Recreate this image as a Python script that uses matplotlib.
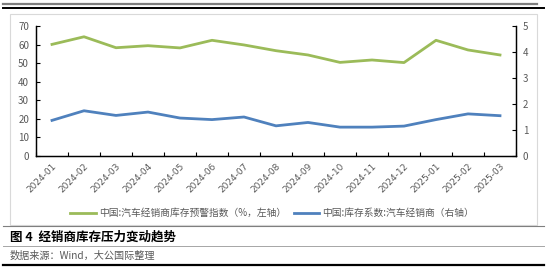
import matplotlib.pyplot as plt
from matplotlib.lines import Line2D
from matplotlib.patches import Rectangle
import numpy as np

plt.rcParams['font.family'] = ['Noto Sans CJK SC', 'DejaVu Sans']

# ---- data ----
months = ['2024-01', '2024-02', '2024-03', '2024-04', '2024-05', '2024-06',
          '2024-07', '2024-08', '2024-09', '2024-10', '2024-11', '2024-12',
          '2025-01', '2025-02', '2025-03']
warning_index = [60.1, 64.2, 58.3, 59.4, 58.2, 62.3, 59.8, 56.7, 54.4,
                 50.4, 51.7, 50.3, 62.3, 57.1, 54.4]
inventory_coef = [1.37, 1.74, 1.56, 1.69, 1.46, 1.40, 1.50, 1.16, 1.29,
                  1.11, 1.11, 1.15, 1.40, 1.62, 1.55]
left_ticks = [0, 10, 20, 30, 40, 50, 60, 70]
right_ticks = [0, 1, 2, 3, 4, 5]

label_green = '中国:汽车经销商库存预警指数（%，左轴）'
label_blue = '中国:库存系数:汽车经销商（右轴）'
title = '图 4  经销商库存压力变动趋势'
source = '数据来源：Wind，大公国际整理'

GREEN = '#9BBB59'
BLUE = '#4F81BD'
TICK_C = '#595959'

W, H = 547, 270
fig = plt.figure(figsize=(W / 100, H / 100), dpi=100)


def fx(px):
    return px / W


def fy(py):
    return 1 - py / H


# chart frame
fig.patches.append(Rectangle((fx(10), fy(225)), fx(537) - fx(10), fy(14) - fy(225),
                             transform=fig.transFigure, fill=False,
                             edgecolor='#D9D9D9', linewidth=0.8))

ax = fig.add_axes([fx(36), fy(156), fx(516) - fx(36), fy(26) - fy(156)])
ax2 = ax.twinx()

x = np.arange(len(months))
l1, = ax.plot(x, warning_index, color=GREEN, linewidth=2.0, label=label_green)
l2, = ax2.plot(x, inventory_coef, color=BLUE, linewidth=2.0, label=label_blue)

ax.set_xlim(-0.5, len(months) - 0.5)
ax.set_ylim(0, 70)
ax2.set_ylim(0, 5)
ax.set_yticks(left_ticks)
ax2.set_yticks(right_ticks)
# category boundaries carry the tick marks, centres carry the labels
ax.set_xticks(np.arange(len(months) + 1) - 0.5, minor=False)
ax.set_xticklabels([])
ax.set_xticks(x, minor=True)
ax.set_xticklabels(months, minor=True, rotation=45, ha='right',
                   rotation_mode='anchor', fontsize=6.5, color=TICK_C,
                   family='DejaVu Sans')
ax.tick_params(axis='x', which='minor', length=0, pad=4)
ax.tick_params(axis='x', which='major', direction='in', length=3, width=0.8)

for a in (ax, ax2):
    a.spines['top'].set_visible(False)
    for s in ('left', 'right', 'bottom'):
        a.spines[s].set_linewidth(0.9)
        a.spines[s].set_color('black')
    a.tick_params(axis='y', direction='in', length=3, width=0.8,
                  labelsize=7, labelcolor=TICK_C, pad=5)
    a.patch.set_visible(False)

fig.legend(handles=[l1, l2], loc='center', bbox_to_anchor=(fx(272), fy(213)),
           ncol=2, frameon=False, fontsize=7, handlelength=2.6,
           handletextpad=0.3, columnspacing=0.8, labelcolor=TICK_C)

# rules
def hline(py, x0, x1, color, lw):
    fig.add_artist(Line2D([fx(x0), fx(x1)], [fy(py), fy(py)],
                          transform=fig.transFigure, color=color, linewidth=lw))


hline(4.3, 3, 537, '#7F7F7F', 1.6)
hline(7.8, 3, 544, 'black', 1.4)
hline(226, 3, 544, '#7F7F7F', 0.8)
hline(246, 3, 544, '#A6A6A6', 0.7)
hline(265, 3, 544, 'black', 1.6)

fig.text(fx(10), fy(237.5), title, fontsize=9, fontweight='bold',
         va='center', ha='left', color='black')
fig.text(fx(10), fy(256), source, fontsize=7.3, va='center', ha='left',
         color='#595959')

fig.savefig('out.png', dpi=100)
